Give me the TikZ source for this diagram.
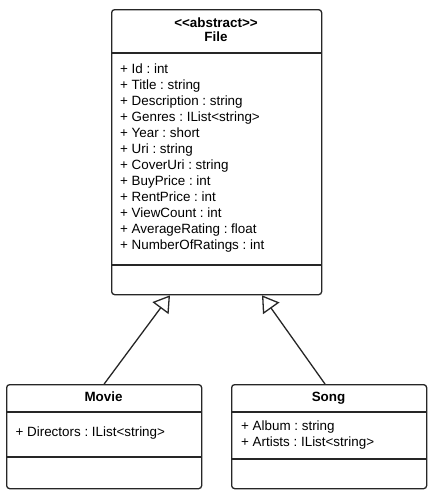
\documentclass[tikz,border=0pt]{standalone}
\usepackage{fontspec}
\setmainfont{Liberation Sans}
\usetikzlibrary{arrows.meta}
\frenchspacing
\begin{document}
\begin{tikzpicture}[x=1pt,y=-1pt, line width=1.3pt,
  classbox/.style={draw=black!85, rounded corners=3pt, anchor=north west, inner sep=0pt},
  attr/.style={anchor=base west, inner sep=0pt, font=\fontsize{13.4}{16}\selectfont\frenchspacing},
  title/.style={anchor=base, inner sep=0pt, font=\fontsize{13.4}{16}\selectfont\bfseries},
  sep/.style={draw=black!85},
  inherit/.style={-{Triangle[open,length=16pt,width=20pt]}, draw=black!85}]
\useasboundingbox (0,0) rectangle (433,496);
% File
\node[classbox, minimum width=210pt, minimum height=285pt] (file) at (111,9) {};
\draw[sep] (file.west |- 0,53) -- (file.east |- 0,53);
\draw[sep] (file.west |- 0,265) -- (file.east |- 0,265);
\node[title] (fst) at (216,27) {<\kern0pt<abstract>\kern0pt>};
\node[title] (fname) at (216,41.5) {File};
\foreach \t [count=\i] in {+ Id : int, + Title : string, + Description : string, + Genres : IList<string>, + Year : short, + Uri : string, + CoverUri : string, + BuyPrice : int, + RentPrice : int, + ViewCount : int, + AverageRating : float, + NumberOfRatings : int}
  \node[attr] (fa\i) at ({119.5},{73.5+16*(\i-1)}) {\t};
% Movie
\node[classbox, minimum width=195pt, minimum height=104pt] (movie) at (6,384) {};
\draw[sep] (movie.west |- 0,412) -- (movie.east |- 0,412);
\draw[sep] (movie.west |- 0,457) -- (movie.east |- 0,457);
\node[title] (mname) at (103.5,401) {Movie};
\node[attr] (ma1) at (15,436.5) {+ Directors : IList<string>};
% Song
\node[classbox, minimum width=195pt, minimum height=104pt] (song) at (231,384) {};
\draw[sep] (song.west |- 0,412) -- (song.east |- 0,412);
\draw[sep] (song.west |- 0,459) -- (song.east |- 0,459);
\node[title] (sname) at (328.5,401) {Song};
\node[attr] (sa1) at (240.5,430) {+ Album : string};
\node[attr] (sa2) at (240.5,446) {+ Artists : IList<string>};
% inheritance
\draw[inherit] (movie.north) -- (file.south -| 170,0);
\draw[inherit] (song.north -| 325,0) -- (file.south -| 262,0);
\end{tikzpicture}
\end{document}
